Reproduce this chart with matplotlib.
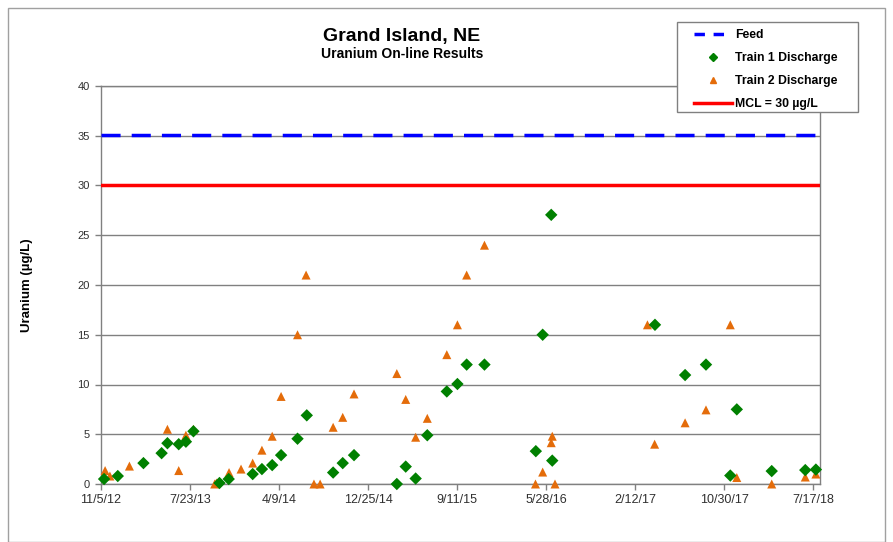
import matplotlib
matplotlib.use("Agg")
import matplotlib.pyplot as plt
from matplotlib.lines import Line2D
from matplotlib.patches import Rectangle
import pandas as pd

plt.rcParams['font.family'] = ['Liberation Sans', 'DejaVu Sans']

train1_dates = ["2012-11-14", "2012-12-24", "2013-03-09", "2013-05-01", "2013-05-18", "2013-06-20",
                "2013-07-11", "2013-08-02", "2013-10-17", "2013-11-13", "2014-01-22", "2014-02-18",
                "2014-03-20", "2014-04-15", "2014-06-02", "2014-06-29", "2014-09-14", "2014-10-12",
                "2014-11-14", "2015-03-19", "2015-04-14", "2015-05-13", "2015-06-16", "2015-08-12",
                "2015-09-12", "2015-10-09", "2015-11-30", "2016-04-28", "2016-05-18", "2016-06-12",
                "2016-06-15", "2017-04-11", "2017-07-08", "2017-09-07", "2017-11-17", "2017-12-06",
                "2018-03-18", "2018-06-24", "2018-07-25"]
train1_values = [0.5, 0.8, 2.1, 3.1, 4.1, 4.0,
                 4.25, 5.3, 0.1, 0.5, 1.0, 1.5,
                 1.9, 2.9, 4.55, 6.9, 1.15, 2.1,
                 2.9, 0.0, 1.75, 0.55, 4.9, 9.3,
                 10.05, 12.0, 12.0, 3.3, 15.0, 27.05,
                 2.35, 16.0, 10.95, 12.0, 0.85, 7.5,
                 1.3, 1.4, 1.45]

train2_dates = ["2012-11-17", "2012-12-01", "2013-01-27", "2013-05-18", "2013-06-20", "2013-07-11",
                "2013-08-02", "2013-10-03", "2013-10-08", "2013-11-14", "2013-12-19", "2014-01-22",
                "2014-02-18", "2014-03-20", "2014-04-15", "2014-06-02", "2014-06-27", "2014-07-20",
                "2014-08-07", "2014-09-14", "2014-10-12", "2014-11-14", "2015-03-19", "2015-04-14",
                "2015-05-13", "2015-06-16", "2015-08-12", "2015-09-12", "2015-10-09", "2015-11-30",
                "2016-04-27", "2016-05-18", "2016-06-12", "2016-06-15", "2016-06-23", "2017-03-20",
                "2017-04-10", "2017-07-08", "2017-09-07", "2017-11-17", "2017-12-06", "2018-03-18",
                "2018-06-24", "2018-07-25"]
train2_values = [1.35, 0.8, 1.8, 5.5, 1.35, 4.9,
                 5.5, 0.0, 0.1, 1.15, 1.5, 2.1,
                 3.4, 4.8, 8.8, 15.0, 21.0, 0.0,
                 0.0, 5.7, 6.7, 9.05, 11.1, 8.5,
                 4.7, 6.6, 13.0, 16.0, 21.0, 24.0,
                 0.0, 1.2, 4.15, 4.8, 0.0, 16.0,
                 4.0, 6.15, 7.45, 16.0, 0.65, 0.0,
                 0.7, 1.0]

feed_value = 35.1
mcl_value = 30.0
x_start = "2012-11-05"
x_end = "2018-08-06"
tick_step_days = 260
n_ticks = 9

t1 = pd.to_datetime(train1_dates)
t2 = pd.to_datetime(train2_dates)
xs = pd.Timestamp(x_start)
xe = pd.Timestamp(x_end)
ticks = [xs + pd.Timedelta(days=tick_step_days * i) for i in range(n_ticks)]
tick_labels = [f"{d.month}/{d.day}/{d.year % 100:02d}" for d in ticks]

W, H = 893, 542
fig = plt.figure(figsize=(W / 100, H / 100), dpi=100)
fig.patches.append(Rectangle((8 / W, 0.0), 877 / W, 1 - 8 / H, transform=fig.transFigure,
                             fill=False, edgecolor='#a0a0a0', linewidth=1.0))

ax = fig.add_axes([101 / W, 1 - 484 / H, (820 - 101) / W, (484 - 86) / H])
ax.set_xlim(xs, xe)
ax.set_ylim(0, 40)
ax.set_yticks(range(0, 41, 5))
ax.yaxis.grid(True, color='#808080', linewidth=1.0)
ax.set_axisbelow(True)
for s in ax.spines.values():
    s.set_color('#808080')
    s.set_linewidth(1.0)
ax.set_xticks(ticks)
ax.set_xticklabels(tick_labels)
ax.tick_params(axis='both', color='#808080', length=4, direction='out', width=1, labelcolor='#303030')
ax.tick_params(axis='x', labelsize=9, pad=3)
ax.tick_params(axis='y', labelsize=8, pad=4)

ax.plot([xs, xe], [feed_value, feed_value], color='#0000FF', linewidth=2.5,
        dashes=(5.5, 3.2), dash_capstyle='butt', zorder=3)
ax.plot([xs, xe], [mcl_value, mcl_value], color='#FF0000', linewidth=2.5, zorder=3)

ax.scatter(t2, train2_values, marker='^', s=42, color='#E46C0A', edgecolors='none', zorder=4, clip_on=False)
ax.scatter(t1, train1_values, marker='D', s=40, color='#008000', edgecolors='none', zorder=5, clip_on=False)

ax.set_ylabel("Uranium (µg/L)", fontsize=9.5, fontweight='bold', labelpad=32)

fig.text(402 / W, 1 - 37 / H, "Grand Island, NE", ha='center', va='center', fontsize=14, fontweight='bold')
fig.text(402 / W, 1 - 54 / H, "Uranium On-line Results", ha='center', va='center', fontsize=10, fontweight='bold')

# legend frame
fig.patches.append(Rectangle((677 / W, 1 - 112 / H), (858 - 677) / W, (112 - 22) / H,
                             transform=fig.transFigure, facecolor='white', edgecolor='#808080',
                             linewidth=1.0, zorder=10))
handles = [
    Line2D([], [], color='#0000FF', linewidth=2.5, dashes=(3, 2.5)),
    Line2D([], [], linestyle='none', marker='D', markersize=4, color='#008000'),
    Line2D([], [], linestyle='none', marker='^', markersize=5, color='#E46C0A'),
    Line2D([], [], color='#FF0000', linewidth=2.5),
]
labels = ["Feed", "Train 1 Discharge", "Train 2 Discharge", "MCL = 30 µg/L"]
leg = fig.legend(handles, labels, loc='upper left', bbox_to_anchor=(694 / W, 1 - 29 / H),
                 fontsize=8.8, frameon=False, handlelength=3.1, handletextpad=0.25,
                 labelspacing=0.9, borderpad=0, borderaxespad=0)
leg.set_zorder(11)
for t in leg.get_texts():
    t.set_fontweight('bold')

fig.savefig("out.png", dpi=100)
